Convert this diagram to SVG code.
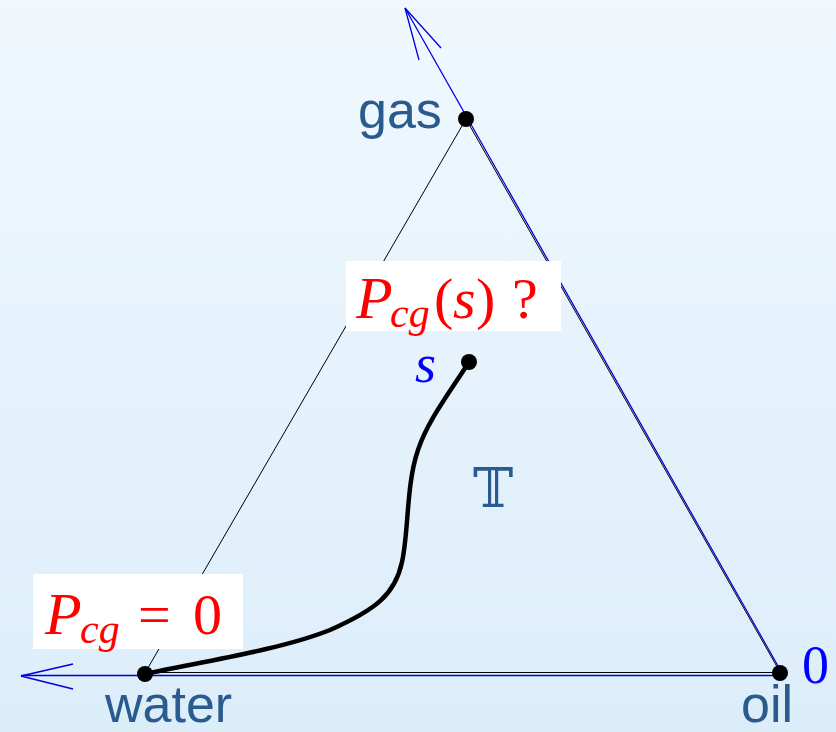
<svg xmlns="http://www.w3.org/2000/svg" width="836" height="732" viewBox="0 0 836 732">
<defs>
<linearGradient id="bg" x1="0" y1="0" x2="0" y2="1">
<stop offset="0" stop-color="#f0f8fe"/>
<stop offset="1" stop-color="#dcedfa"/>
</linearGradient>
</defs>
<style>
.edge{stroke:#000;stroke-width:1;fill:none}
.axis{stroke:#0000dd;stroke-width:1.3;fill:none}
.dot{fill:#000}
.lbl{font-family:"Liberation Sans",Arial,sans-serif;font-size:52px;fill:#2a5b8e}
.math{font-family:"Liberation Serif","Times New Roman",serif;fill:#ff0000}
.box{fill:#ffffff}
</style>
<rect width="836" height="732" fill="url(#bg)"/>
<g id="connectors">
<line class="edge" x1="466" y1="119" x2="145" y2="673"/>
<line class="edge" x1="466" y1="119" x2="780" y2="672"/>
<line class="edge" x1="145" y1="672.5" x2="780" y2="672.5"/>
<polyline class="axis" points="782,673 405,8"/>
<polyline class="axis" points="441,48 405,8 419,60"/>
<polyline class="axis" points="780,675.5 21,675.5"/>
<polyline class="axis" points="73,664 21,676 73,689"/>
<path d="M469,362 C450,392 428,420 418,450 C406,485 409,530 402,562 C395,595 375,610 330,630 C280,650 200,662 145,674" fill="none" stroke="#000" stroke-width="4.5" stroke-linecap="round"/>
</g>
<g id="gas"><circle class="dot" cx="466" cy="119" r="8"/><text class="lbl" x="358" y="128">gas</text></g>
<g id="water"><circle class="dot" cx="145" cy="674" r="8"/><text class="lbl" x="105" y="722">water</text></g>
<g id="oil"><circle class="dot" cx="780" cy="673" r="8"/><text class="lbl" x="741" y="722">oil</text><text x="802" y="683" font-family="Liberation Serif,serif" font-size="54" fill="#0000ff">0</text></g>
<g id="s"><circle class="dot" cx="469" cy="362" r="8"/><text x="415" y="382" font-family="Liberation Serif,serif" font-style="italic" font-size="54" fill="#0000ff">s</text></g>
<g id="T"><text x="473" y="507" font-family="DejaVu Serif,DejaVu Sans,serif" font-size="54" fill="#2a5b8e">𝕋</text></g>
<g id="label-pcgs">
<rect class="box" x="346" y="261" width="215" height="70"/>
<text class="math" y="318" font-size="58"><tspan x="356" font-style="italic" font-size="60">P</tspan><tspan x="390" y="327" font-size="42" font-style="italic">cg</tspan><tspan x="434" y="318">(</tspan><tspan x="453" font-style="italic">s</tspan><tspan x="476">)</tspan><tspan x="512">?</tspan></text>
</g>
<g id="label-pcg0">
<rect class="box" x="33" y="574" width="210" height="75"/>
<text class="math" y="634" font-size="58"><tspan x="45" font-style="italic" font-size="60">P</tspan><tspan x="80" y="643" font-size="42" font-style="italic">cg</tspan><tspan x="138" y="634">=</tspan><tspan x="193">0</tspan></text>
</g>
</svg>
